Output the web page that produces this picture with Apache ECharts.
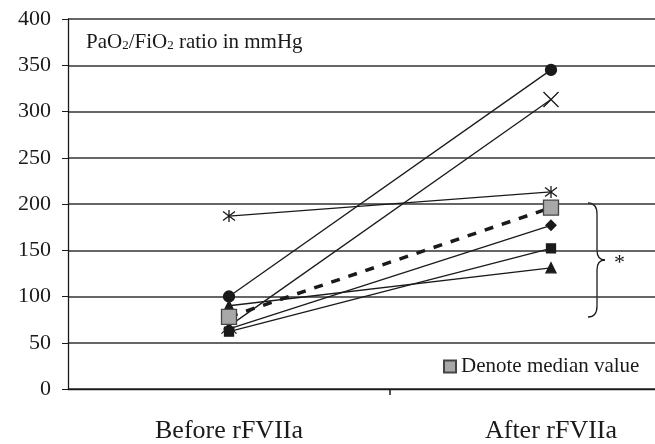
<!DOCTYPE html>
<html>
<head>
<meta charset="utf-8">
<script src="https://cdn.jsdelivr.net/npm/echarts@6/dist/echarts.min.js"></script>
<style>
  html, body { margin: 0; padding: 0; background: #fff; }
  #main { width: 655px; height: 444px; }
</style>
</head>
<body>
<div id="main"></div>
<script>
var myChart = echarts.init(document.getElementById('main'));

// categories and tick labels
var categories = ['Before rFVIIa', 'After rFVIIa'];
var yTicks = [0, 50, 100, 150, 200, 250, 300, 350, 400];

// each patient: [before, after]
var circleVals = [100, 345];
var crossVals = [68, 313];
var starVals = [187, 213];
var diamondVals = [65, 177];
var squareVals = [62, 152];
var triangleVals = [90, 131];
var medianVals = [78, 196];

var serif = 'Liberation Serif';
var ink = '#1a1a1a';

var crossPath = 'path://M0,0L10,10M10,0L0,10';
var starPath = 'path://M5,0L5,10M1.2,1.2L8.8,8.8M8.8,1.2L1.2,8.8';

//类目序号 -> [x, y]
function toPoints (vals) {
  return vals.map(function (v, i) { return [i, v]; });
}

//普通的病人连线
function patient (vals, symbol, size) {
  return {
    type: 'line',
    data: toPoints(vals),
    symbol: symbol,
    symbolSize: size,
    lineStyle: { color: ink, width: 1.3 },
    itemStyle: { color: ink, borderColor: ink, borderWidth: 1.3 },
    silent: true,
    z: 3
  };
}

//大括号的一段
function curve (x1, y1, cx, cy, x2, y2) {
  return {
    type: 'bezierCurve',
    shape: { x1: x1, y1: y1, cpx1: cx, cpy1: cy, x2: x2, y2: y2 },
    style: { fill: null, stroke: ink, lineWidth: 1.3 }
  };
}
function seg (x1, y1, x2, y2) {
  return {
    type: 'line',
    shape: { x1: x1, y1: y1, x2: x2, y2: y2 },
    style: { stroke: ink, lineWidth: 1.3 }
  };
}

// 图是被裁掉右边的：每个类目宽 322px，画布只到第二个类目的一半多一点
var bandPx = 322;
var xMax = (655 - 68) / bandPx - 0.5;

var option = {
  animation: false,
  title: {
    text: 'PaO{sub|2}/FiO{sub|2} ratio in mmHg',
    left: 81,
    top: 27,
    textStyle: {
      fontFamily: serif,
      fontSize: 21,
      fontWeight: 'normal',
      color: ink,
      rich: {
        sub: { fontFamily: serif, fontSize: 13, color: ink, padding: [7, 0, 0, 0] }
      }
    }
  },
  legend: {
    data: ['Denote median value'],
    left: 438,
    top: 351,
    icon: 'rect',
    itemWidth: 12,
    itemHeight: 12,
    itemGap: 8,
    textStyle: { fontFamily: serif, fontSize: 21, color: ink }
  },
  grid: { left: 68, right: 0, top: 19, bottom: 53 },
  xAxis: {
    type: 'value',
    min: -0.5,
    max: xMax,
    splitLine: { show: false },
    axisLine: { onZero: false, lineStyle: { color: ink, width: 1.3 } },
    axisTick: { show: true, length: 6, customValues: [0.5], lineStyle: { color: ink, width: 1.5 } },
    axisLabel: {
      fontFamily: serif, fontSize: 26, color: ink, margin: 29,
      customValues: [0, 1],
      formatter: function (v) { return categories[Math.round(v)]; }
    }
  },
  yAxis: {
    type: 'value',
    min: yTicks[0],
    max: yTicks[yTicks.length - 1],
    interval: 50,
    axisLine: { show: true, onZero: false, lineStyle: { color: ink, width: 1.3 } },
    axisTick: { show: true, length: 6, lineStyle: { color: ink } },
    axisLabel: { fontFamily: serif, fontSize: 22, color: ink, margin: 17 },
    splitLine: { lineStyle: { color: '#333', width: 1.5 } }
  },
  series: [
    patient(circleVals, 'circle', 11),
    patient(crossVals, crossPath, 15),
    patient(starVals, starPath, 12),
    patient(diamondVals, 'diamond', 10),
    patient(squareVals, 'rect', 9),
    patient(triangleVals, 'triangle', 10),
    {
      name: 'Denote median value',
      type: 'line',
      data: toPoints(medianVals),
      symbol: 'rect',
      symbolSize: 15,
      lineStyle: { color: ink, width: 3.5, type: [9, 9] },
      itemStyle: { color: '#a8a8a8', borderColor: '#444', borderWidth: 1.3 },
      silent: true,
      z: 4
    }
  ],
  graphic: [
    curve(588, 203, 597, 203, 597, 214),
    seg(597, 214, 597, 250),
    curve(597, 250, 597, 260, 605, 260),
    curve(605, 260, 597, 260, 597, 270),
    seg(597, 270, 597, 306),
    curve(597, 306, 597, 317, 588, 317),
    {
      type: 'text',
      left: 614,
      top: 252,
      style: { text: '*', font: '22px ' + serif, fill: ink }
    }
  ]
};

myChart.setOption(option);
</script>
</body>
</html>
